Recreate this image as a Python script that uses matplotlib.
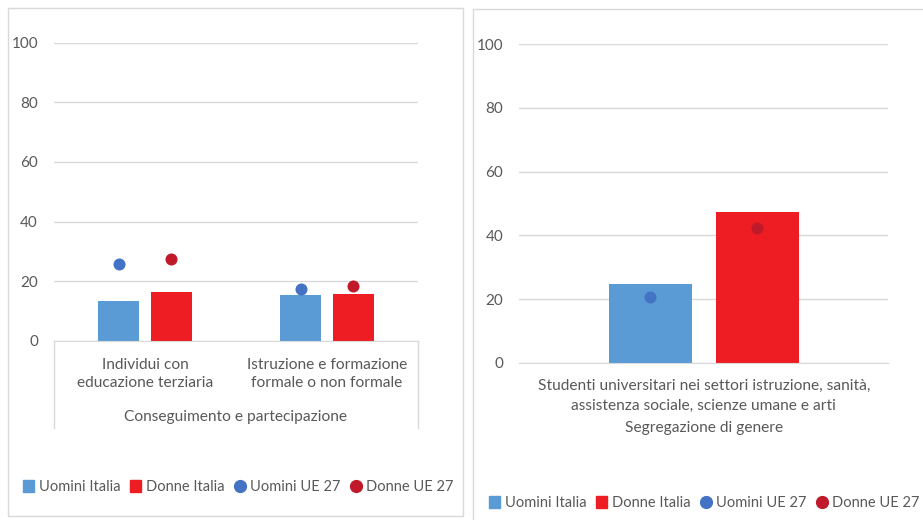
import matplotlib
matplotlib.use("Agg")
from matplotlib import pyplot as plt
from matplotlib.patches import Rectangle, Patch
from matplotlib.lines import Line2D

# data
leftCategories = ["Individui con\neducazione terziaria", "Istruzione e formazione\nformale o non formale"]
leftGroup = "Conseguimento e partecipazione"
leftUominiItalia = [13.3, 15.4]
leftDonneItalia = [16.4, 15.8]
leftUominiUE = [25.8, 17.3]
leftDonneUE = [27.4, 18.3]

rightCategories = ["Studenti universitari nei settori istruzione, sanità,\nassistenza sociale, scienze umane e arti"]
rightGroup = "Segregazione di genere"
rightUominiItalia = [24.7]
rightDonneItalia = [47.3]
rightUominiUE = [20.5]
rightDonneUE = [42.3]

seriesNames = ["Uomini Italia", "Donne Italia", "Uomini UE 27", "Donne UE 27"]
yTicks = [0, 20, 40, 60, 80, 100]

# styles
W, H = 923, 520
BLUE_BAR = "#5B9BD5"
RED_BAR = "#EE1D23"
BLUE_DOT = "#4472C4"
RED_DOT = "#C0192A"
GRID = "#D9D9D9"
TEXT = "#595959"
FONT = "Lato"
BAR_W = 0.225
OFFSET = 0.145
LABEL_SIZE = 11.2

plt.rcParams["font.family"] = [FONT, "DejaVu Sans"]
plt.rcParams["text.color"] = TEXT

fig = plt.figure(figsize=(W / 100, H / 100), dpi=100)


def px(x):
    return x / W


def py(y):
    return 1 - y / H


def axesAt(x0, y0, x1, y1):
    return fig.add_axes([px(x0), py(y1), px(x1) - px(x0), py(y0) - py(y1)])


def drawPanel(ax, uomini, donne, uominiUE, donneUE, labels, spacing):
    n = len(uomini)
    xs = list(range(n))
    ax.bar([x - OFFSET for x in xs], uomini, BAR_W, color=BLUE_BAR, zorder=2)
    ax.bar([x + OFFSET for x in xs], donne, BAR_W, color=RED_BAR, zorder=2)
    ax.scatter([x - OFFSET for x in xs], uominiUE, s=75, color=BLUE_DOT, zorder=3, linewidths=0)
    ax.scatter([x + OFFSET for x in xs], donneUE, s=75, color=RED_DOT, zorder=3, linewidths=0)
    ax.set_xlim(-0.5, n - 0.5)
    ax.set_ylim(0, 100)
    ax.set_yticks(yTicks)
    ax.set_xticks(xs)
    ax.set_xticklabels(labels, fontsize=LABEL_SIZE, color=TEXT, linespacing=spacing)
    ax.tick_params(axis="y", length=0, pad=11.5, labelsize=11, labelcolor=TEXT)
    ax.tick_params(axis="x", length=0, pad=12)
    ax.grid(axis="y", color=GRID, linewidth=1, zorder=0)
    for s in ["top", "right", "left"]:
        ax.spines[s].set_visible(False)
    ax.spines["bottom"].set_color(GRID)
    ax.set_axisbelow(True)


# left chart
axL = axesAt(54, 42.5, 418, 341)
drawPanel(axL, leftUominiItalia, leftDonneItalia, leftUominiUE, leftDonneUE, leftCategories, 1.35)
fig.text(px(236), py(417), leftGroup, ha="center", va="center", fontsize=LABEL_SIZE)
for xv in [54, 418]:
    fig.add_artist(Line2D([px(xv), px(xv)], [py(341), py(428)], color=GRID, lw=1))

# right chart
axR = axesAt(519.3, 44.3, 888.3, 362.7)
drawPanel(axR, rightUominiItalia, rightDonneItalia, rightUominiUE, rightDonneUE, rightCategories, 1.5)
fig.text(px(704), py(428), rightGroup, ha="center", va="center", fontsize=LABEL_SIZE)

# panel borders
fig.add_artist(Rectangle((px(8.3), py(515.7)), px(462.7) - px(8.3), py(8.3) - py(515.7),
                         fill=False, edgecolor=GRID, lw=1))
fig.add_artist(Rectangle((px(472.7), py(530)), px(940) - px(472.7), py(9.3) - py(530),
                         fill=False, edgecolor=GRID, lw=1))

# legends
handles = [
    Patch(color=BLUE_BAR),
    Patch(color=RED_BAR),
    Line2D([], [], marker="o", color=BLUE_DOT, linestyle="none", markersize=8.5),
    Line2D([], [], marker="o", color=RED_DOT, linestyle="none", markersize=8.5),
]
for cx, cy in [(238, 487), (704, 503)]:
    fig.legend(handles, seriesNames, loc="center", bbox_to_anchor=(px(cx), py(cy)), ncol=4,
               frameon=False, fontsize=10.5, handlelength=0.8, handleheight=0.8,
               handletextpad=0.3, columnspacing=0.65, borderpad=0)

fig.savefig("out.png", dpi=100)
